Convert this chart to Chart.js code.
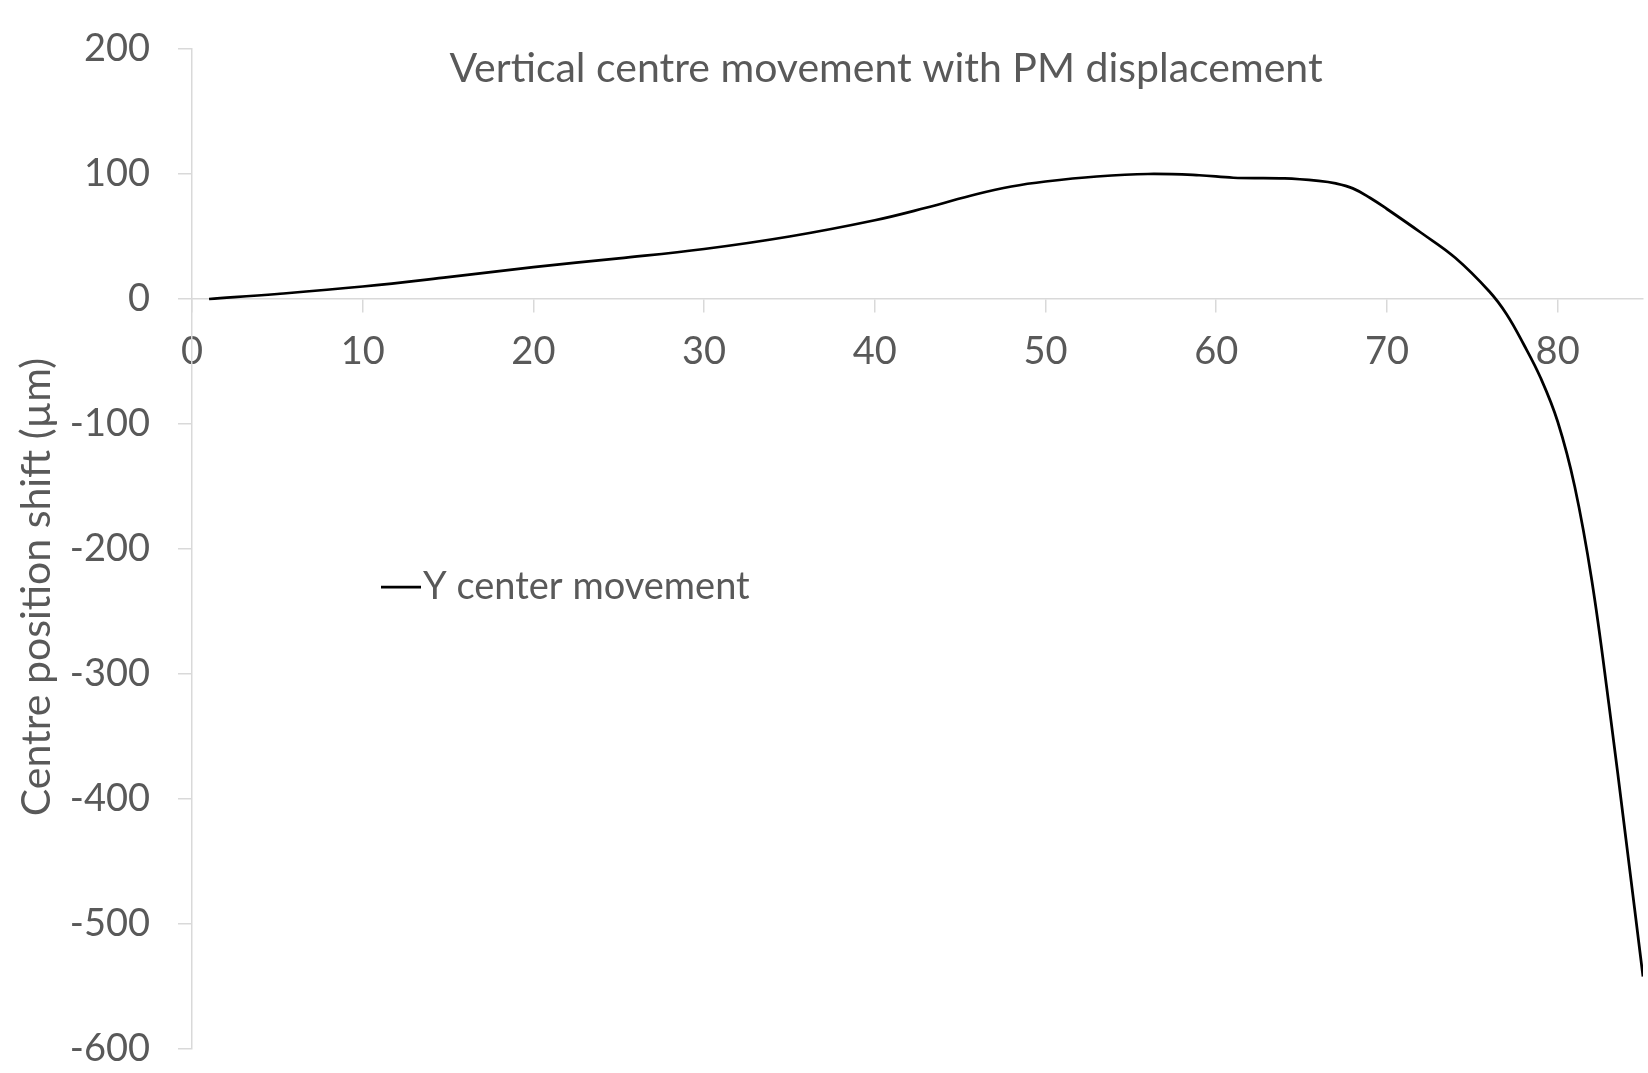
<!DOCTYPE html>
<html>
<head>
<meta charset="utf-8">
<script src="https://cdn.jsdelivr.net/npm/chart.js@4.4.0/dist/chart.umd.min.js"></script>
<style>
  html, body { margin: 0; padding: 0; background: #fff; }
  #wrap { width: 1648px; height: 1073px; }
</style>
</head>
<body>
<div id="wrap"><canvas id="myChart"></canvas></div>
<script>
// values
const chartTitle = 'Vertical centre movement with PM displacement';
const yAxisTitle = 'Centre position shift (µm)';
const seriesName = 'Y center movement';

const pmDisplacement = [1, 5, 10, 15, 20, 25, 30, 35, 40, 43, 46, 48, 50, 53, 56, 59, 61, 64, 66, 67, 68, 69,
                        70, 72, 74, 76, 77, 78, 79, 80, 81, 82, 83, 84, 85];
const yCentreShift = [0, 4, 10, 17.5, 25.5, 32.5, 40, 50, 63, 73, 84, 90, 94, 98, 100, 99, 97, 96.5, 94.5, 92.5, 88.5, 81,
                      72, 53, 33, 6, -12, -36, -63, -98, -150, -225, -324, -432, -542];

const textColor = '#595959';
const axisColor = '#d9d9d9';
const fontName = 'Lato';

var points = [];
pmDisplacement.forEach((x, i) => points.push({x: x, y: yCentreShift[i]}))

// title, y axis title and legend sit inside the plot like in Excel
const overlayText = {
  id: 'overlayText',
  afterDraw(chart) {
    const ctx = chart.ctx;
    ctx.save();
    ctx.fillStyle = textColor;
    ctx.textBaseline = 'middle';

    ctx.font = '41px ' + fontName;
    ctx.textAlign = 'center';
    ctx.fillText(chartTitle, 886, 69);

    ctx.save();
    ctx.translate(37, 587);
    ctx.rotate(-Math.PI / 2);
    ctx.font = '41px ' + fontName;
    ctx.fillText(yAxisTitle, 0, 0);
    ctx.restore();

    // legend
    const ds = chart.data.datasets[0];
    ctx.strokeStyle = ds.borderColor;
    ctx.lineWidth = ds.borderWidth;
    ctx.beginPath();
    ctx.moveTo(381, 587);
    ctx.lineTo(421, 587);
    ctx.stroke();
    ctx.font = '38px ' + fontName;
    ctx.textAlign = 'left';
    ctx.fillText(ds.label, 423, 587);
    ctx.restore();
  }
};

const ctx = document.getElementById('myChart').getContext('2d');
const myChart = new Chart(ctx, {
  type: 'line',
  data: {
    datasets: [{
      label: seriesName,
      data: points,
      borderColor: '#000000',
      borderWidth: 2.75,
      pointRadius: 0,
      tension: 0.4,
      fill: false
    }]
  },
  options: {
    responsive: true,
    maintainAspectRatio: false,
    animation: false,
    layout: { padding: { left: 0, right: 5, top: 49, bottom: 24 } },
    plugins: {
      legend: { display: false },
      title: { display: false },
      tooltip: { enabled: false }
    },
    scales: {
      x: {
        type: 'linear',
        position: { y: 0 },
        min: 0,
        max: 85,
        afterFit: (scale) => { scale.height = 0 },
        grid: { display: true, drawOnChartArea: false, drawTicks: true, tickLength: 13, color: axisColor, lineWidth: 1.5 },
        border: { display: true, color: axisColor, width: 1.5 },
        ticks: {
          stepSize: 10,
          includeBounds: false,
          maxRotation: 0,
          padding: 17,
          color: textColor,
          font: { family: fontName, size: 38 }
        }
      },
      y: {
        type: 'linear',
        position: 'left',
        min: -600,
        max: 200,
        afterFit: (scale) => {
          scale.width = 192
          scale.paddingTop = 0
          scale.paddingBottom = 0
        },
        grid: { display: true, drawOnChartArea: false, drawTicks: true, tickLength: 14, color: axisColor, lineWidth: 1.5 },
        border: { display: true, color: axisColor, width: 1.5 },
        ticks: {
          stepSize: 100,
          padding: 28,
          color: textColor,
          font: { family: fontName, size: 38, lineHeight: 1 }
        }
      }
    }
  },
  plugins: [overlayText]
});
</script>
</body>
</html>
